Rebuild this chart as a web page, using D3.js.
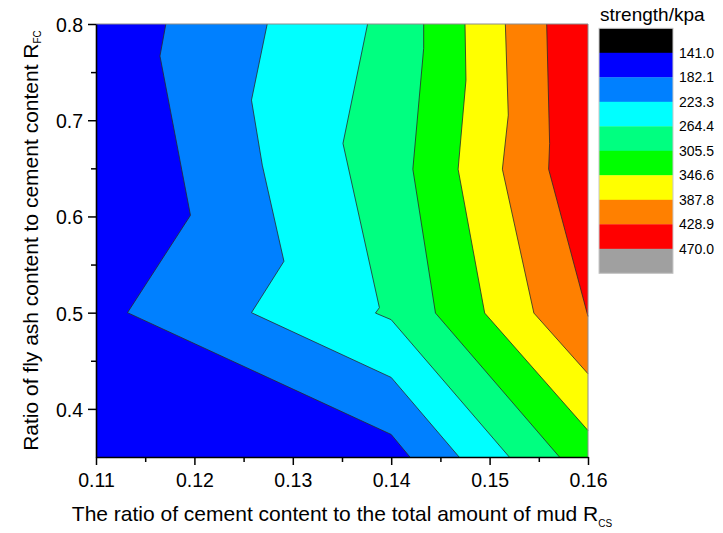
<!DOCTYPE html>
<html><head><meta charset="utf-8">
<script src="https://cdn.jsdelivr.net/npm/d3@7"></script>
<style>
body{margin:0;background:#fff}
svg{display:block}
text{font-family:"Liberation Sans",Arial,Helvetica,sans-serif;fill:#000}
</style>
</head><body>
<svg id="chart" width="723" height="533"></svg>
<script>
// ---- data ----
const levels = [141.0, 182.1, 223.3, 264.4, 305.5, 346.6, 387.8, 428.9, 470.0];
const levelColors = ["#000000","#0000FF","#0080FF","#00FFFF","#00FF80","#00FF00","#FFFF00","#FF8000","#FF0000","#A0A0A0"];
const xTicks = [0.11, 0.12, 0.13, 0.14, 0.15, 0.16];
const xMinorTicks = [0.115, 0.125, 0.135, 0.145, 0.155];
const yTicks = [0.4, 0.5, 0.6, 0.7, 0.8];
const yMinorTicks = [0.45, 0.55, 0.65, 0.75];
const xDomain = [0.11, 0.16];
const yDomain = [0.35, 0.8];

// contour lines (R_CS, R_FC) for each strength level
const line182 = [[0.1171,0.8],[0.1165,0.7667],[0.1196,0.6012],[0.1132,0.5],[0.1400,0.3734],[0.1419,0.35]];
const line223 = [[0.1274,0.8],[0.1258,0.7209],[0.1269,0.6533],[0.1291,0.5534],[0.1258,0.5],[0.1400,0.4327],[0.1469,0.35]];
const line264 = [[0.1376,0.8],[0.1351,0.6759],[0.1388,0.5052],[0.1384,0.4996],[0.1400,0.4927],[0.1520,0.35]];
const line305 = [[0.1433,0.8],[0.1433,0.7747],[0.1422,0.6491],[0.1445,0.4996],[0.1571,0.35]];
const line346 = [[0.1475,0.8],[0.1476,0.7417],[0.1468,0.6491],[0.1495,0.4996],[0.16,0.3775]];
const line387 = [[0.1516,0.8],[0.1519,0.7053],[0.1513,0.6491],[0.1545,0.4996],[0.16,0.4365]];
const line428 = [[0.1558,0.8],[0.1561,0.6759],[0.1560,0.6491],[0.16,0.4961]];
const contourLines = [line182, line223, line264, line305, line346, line387, line428];

// ---- layout ----
const svg = d3.select("#chart");
const L = 96, R = 588, T = 24, B = 457;
const x = d3.scaleLinear().domain(xDomain).range([L, R]);
const y = d3.scaleLinear().domain(yDomain).range([B, T]);
const line = d3.line().x(d => x(d[0])).y(d => y(d[1]));

const plot = svg.append("g");
plot.append("rect").attr("x", L).attr("y", T).attr("width", R - L).attr("height", B - T)
  .attr("fill", levelColors[1]);

contourLines.forEach((pts, i) => {
  const last = pts[pts.length - 1];
  const poly = pts.slice();
  if (last[1] <= yDomain[0] + 1e-9) poly.push([xDomain[1], yDomain[0]]);
  poly.push([xDomain[1], yDomain[1]]);
  plot.append("path").attr("d", line(poly) + "Z").attr("fill", levelColors[i + 2]);
});
contourLines.forEach(pts => {
  plot.append("path").attr("d", line(pts)).attr("fill", "none")
    .attr("stroke", "#2a2a2a").attr("stroke-width", 0.8);
});

// frame top/right
svg.append("path").attr("d", `M${L},${T}H${R}V${B}`).attr("fill", "none")
  .attr("stroke", "#8c8c8c").attr("stroke-width", 1);

// axes
const fmtY = d3.format(".1f"), fmtX = d3.format(".2f");
const gx = svg.append("g").attr("transform", `translate(0,${B})`)
  .call(d3.axisBottom(x).tickValues(xTicks).tickSize(8).tickSizeOuter(0).tickFormat(fmtX));
gx.selectAll("text").attr("y", 30).attr("dy", 0).style("font-size", "19.5px")
  .style("font-family", '"Liberation Sans",Arial,sans-serif');
const gxm = svg.append("g").attr("transform", `translate(0,${B})`)
  .call(d3.axisBottom(x).tickValues(xMinorTicks).tickSize(5).tickSizeOuter(0).tickFormat(""));
gxm.select(".domain").remove();

const gy = svg.append("g").attr("transform", `translate(${L},0)`)
  .call(d3.axisLeft(y).tickValues(yTicks).tickSize(8).tickSizeOuter(0).tickFormat(fmtY));
gy.selectAll("text").attr("x", -13).attr("dy", 7.5).style("font-size", "19.5px")
  .style("font-family", '"Liberation Sans",Arial,sans-serif');
const gym = svg.append("g").attr("transform", `translate(${L},0)`)
  .call(d3.axisLeft(y).tickValues(yMinorTicks).tickSize(5).tickSizeOuter(0).tickFormat(""));
gym.select(".domain").remove();

[gx, gxm, gy, gym].forEach(g => {
  g.selectAll("line").attr("stroke", "#000").attr("stroke-width", 1.5);
  g.selectAll(".domain").attr("stroke", "#000").attr("stroke-width", 1.6);
});

// axis titles
const xt = svg.append("text").attr("x", (L + R) / 2).attr("y", 521)
  .attr("text-anchor", "middle").style("font-size", "21px");
xt.append("tspan").text("The ratio of cement content to the total amount of mud R");
xt.append("tspan").attr("dy", 6).style("font-size", "10px").text("CS");

const yt = svg.append("text").attr("transform", `translate(38,${(T + B) / 2}) rotate(-90)`)
  .attr("text-anchor", "middle").style("font-size", "21px");
yt.append("tspan").text("Ratio of fly ash content to cement content R");
yt.append("tspan").attr("dy", 3).style("font-size", "10px").text("FC");

// legend
const lx = 599, lw = 74, ly0 = 28.3, lh = 24.5;
const leg = svg.append("g");
leg.append("text").attr("x", 600).attr("y", 21).style("font-size", "19px").text("strength/kpa");
leg.selectAll("rect.box").data(levelColors).join("rect").attr("class", "box")
  .attr("x", lx).attr("y", (d, i) => ly0 + i * lh).attr("width", lw).attr("height", lh + 0.3)
  .attr("fill", d => d);
leg.append("rect").attr("x", lx).attr("y", ly0).attr("width", lw).attr("height", lh * levelColors.length)
  .attr("fill", "none").attr("stroke", "#c8c8c8").attr("stroke-width", 1);
leg.selectAll("text.lab").data(levels).join("text").attr("class", "lab")
  .attr("x", 679).attr("y", (d, i) => ly0 + (i + 1) * lh + 5)
  .style("font-size", "14px").text(d => d.toFixed(1));
</script>
</body></html>
